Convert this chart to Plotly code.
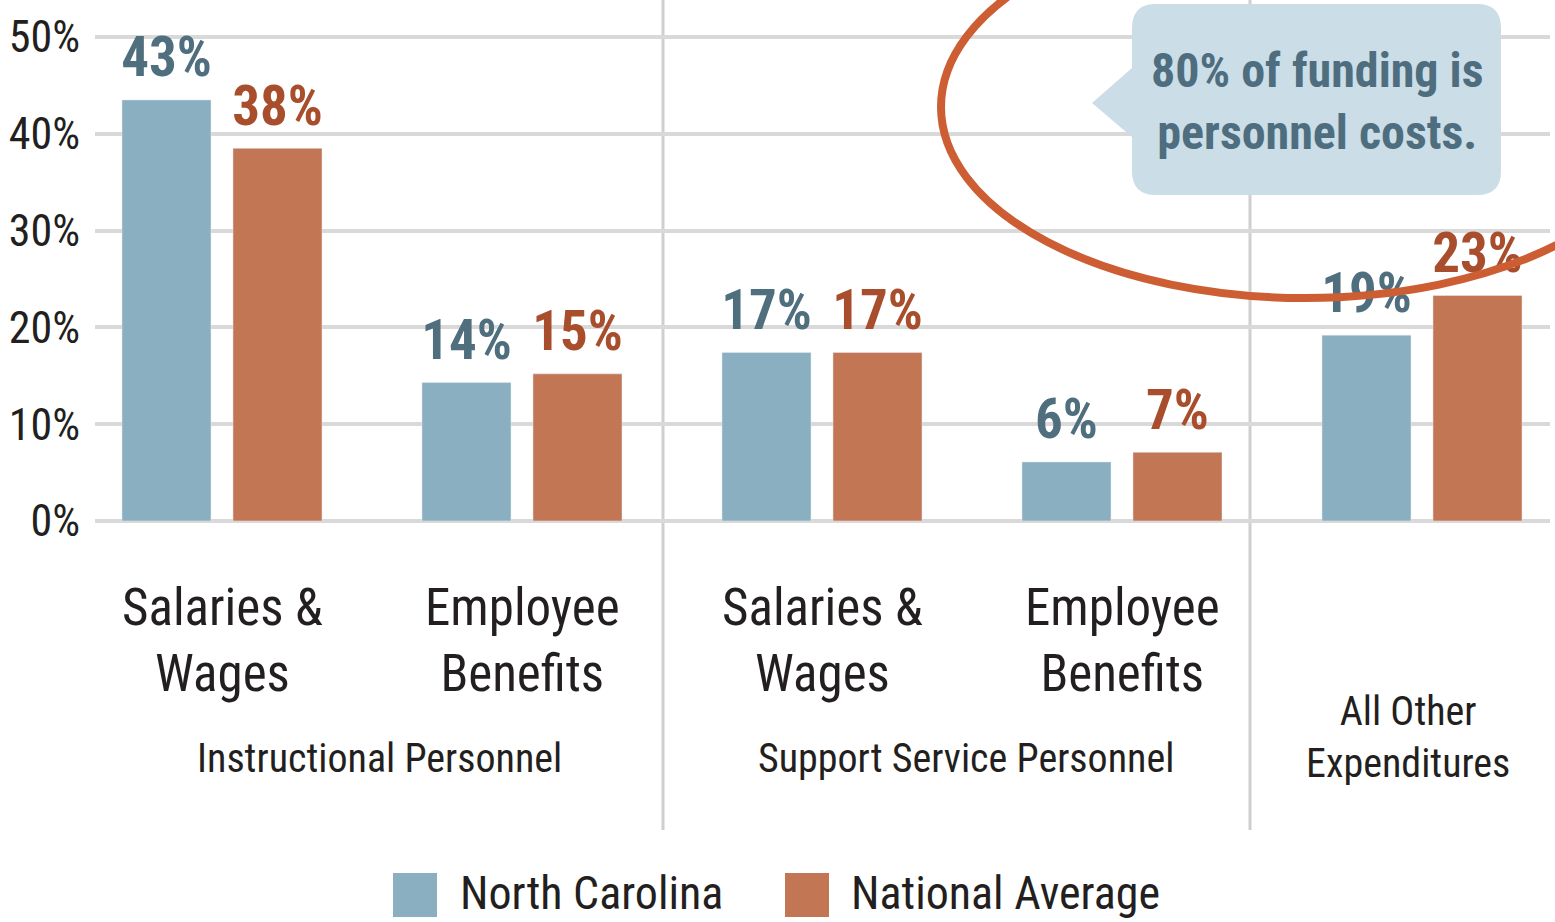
import plotly.graph_objects as go

# ---------------- data ----------------
groups = ["Salaries &<br>Wages", "Employee<br>Benefits", "Salaries &<br>Wages",
          "Employee<br>Benefits", ""]
sections = ["Instructional Personnel", "Support Service Personnel", "All Other<br>Expenditures"]
series_names = ["North Carolina", "National Average"]
nc_values = [43.5, 14.3, 17.4, 6.1, 19.2]
na_values = [38.5, 15.2, 17.4, 7.1, 23.3]
nc_labels = ["43%", "14%", "17%", "6%", "19%"]
na_labels = ["38%", "15%", "17%", "7%", "23%"]
y_ticks = [0, 10, 20, 30, 40, 50]
y_tick_labels = ["0%", "10%", "20%", "30%", "40%", "50%"]
callout_text = "80% of funding is<br>personnel costs."

# ---------------- style ----------------
FONT = "Roboto Condensed, DejaVu Sans Condensed, sans-serif"
NC_BAR = "#8aafc0"
NA_BAR = "#c27654"
NC_TXT = "#4f6e7e"
NA_TXT = "#a84e2c"
DARK = "#231f20"
GRID = "#d9d9d9"
GAP = 0.26

W, H = 1555, 922
L, R, T, B = 95, 1550, 0, 521


def fx(px):
    return (px - L) / (R - L)


def fy(py):
    return (B - py) / (B - T)


xpos = list(range(len(nc_values)))

fig = go.Figure()
for vals, name, col in ((nc_values, series_names[0], NC_BAR), (na_values, series_names[1], NA_BAR)):
    fig.add_trace(go.Bar(x=xpos, y=vals, name=name, marker_color=col, showlegend=False,
                         hoverinfo="skip"))
# value labels (grouped scatter text so they sit over their bars)
for vals, labels, col in ((nc_values, nc_labels, NC_TXT), (na_values, na_labels, NA_TXT)):
    fig.add_trace(go.Scatter(x=xpos, y=vals, mode="markers+text", text=labels,
                             textposition="top center",
                             marker=dict(size=14, opacity=0, color=col),
                             textfont=dict(family=FONT, size=55, color=col, weight="bold"),
                             cliponaxis=False, showlegend=False, hoverinfo="skip"))

shapes = []
# vertical separators
for sx in (663, 1250):
    shapes.append(dict(type="line", xref="paper", yref="paper", x0=fx(sx), x1=fx(sx),
                       y0=fy(0), y1=fy(830), line=dict(color="#cfcfcf", width=3),
                       layer="between"))

# callout bubble
x0, x1, y0, y1, r = 1132, 1501, 4, 195, 24
pts = [("M", x0 + r, y0), ("L", x1 - r, y0), ("Q", x1, y0, x1, y0 + r), ("L", x1, y1 - r),
       ("Q", x1, y1, x1 - r, y1), ("L", x0 + r, y1), ("Q", x0, y1, x0, y1 - r),
       ("L", x0, 137), ("L", 1092, 103), ("L", x0, 68), ("L", x0, y0 + r),
       ("Q", x0, y0, x0 + r, y0)]
path = ""
for p in pts:
    cmd = p[0]
    coords = p[1:]
    seg = []
    for i in range(0, len(coords), 2):
        seg.append(f"{fx(coords[i]):.5f},{fy(coords[i + 1]):.5f}")
    path += cmd + " " + " ".join(seg) + " "
path += "Z"
shapes.append(dict(type="path", xref="paper", yref="paper", path=path,
                   fillcolor="#cbdde6", line=dict(width=0), layer="above"))

# highlight ellipse
cx, cy, ax, ay = 1305, 107, 364, 191
shapes.append(dict(type="circle", xref="paper", yref="paper",
                   x0=fx(cx - ax), x1=fx(cx + ax), y0=fy(cy + ay), y1=fy(cy - ay),
                   line=dict(color="#cd5e34", width=8), layer="above"))

# legend squares
for sx, col in ((393, NC_BAR), (785, NA_BAR)):
    shapes.append(dict(type="rect", xref="paper", yref="paper", x0=fx(sx), x1=fx(sx + 44),
                       y0=fy(917), y1=fy(873), fillcolor=col, line=dict(width=0)))

annotations = []
# category labels
for i, g in enumerate(groups):
    if g:
        annotations.append(dict(x=xpos[i], y=fy(640), xref="x", yref="paper", text=g,
                                showarrow=False, xanchor="center", yanchor="middle",
                                font=dict(family=FONT, size=51, color=DARK)))
# section labels
sec_x = [0.5, 2.5, 4]
sec_y = [758, 758, 737]
sec_shift = [7, -6, -14]
for t, sxv, syv, sh in zip(sections, sec_x, sec_y, sec_shift):
    annotations.append(dict(x=sxv, y=fy(syv), xref="x", yref="paper", text=t, xshift=sh,
                            showarrow=False, xanchor="center", yanchor="middle",
                            font=dict(family=FONT, size=40, color=DARK)))
# callout text
annotations.append(dict(x=fx(1317), y=fy(101), xref="paper", yref="paper", text=callout_text,
                        showarrow=False, xanchor="center", yanchor="middle",
                        font=dict(family=FONT, size=48, color="#4e6e7f", weight="bold")))
# legend text
for sx, name in ((458, series_names[0]), (849, series_names[1])):
    annotations.append(dict(x=fx(sx), y=fy(893), xref="paper", yref="paper", text=name,
                            showarrow=False, xanchor="left", yanchor="middle",
                            font=dict(family=FONT, size=46, color=DARK)))

fig.update_layout(
    width=W, height=H,
    margin=dict(l=L, r=W - R, t=T, b=H - B, pad=0, autoexpand=False),
    paper_bgcolor="white", plot_bgcolor="white",
    barmode="group", bargap=GAP, bargroupgap=0.198,
    scattermode="group", scattergap=GAP,
    shapes=shapes, annotations=annotations,
    font=dict(family=FONT, color=DARK),
    xaxis=dict(range=[(L - 222) / 300, (R - 222) / 300], showgrid=False, zeroline=False,
               showticklabels=False, showline=False, fixedrange=True, automargin=False),
    yaxis=dict(range=[0, (B - T) / 9.68], tickvals=y_ticks, ticktext=y_tick_labels,
               showgrid=True, gridcolor=GRID, gridwidth=4, zeroline=True,
               zerolinecolor=GRID, zerolinewidth=4, showline=False,
               tickfont=dict(family=FONT, size=44, color=DARK), ticks="",
               ticklabelstandoff=14, fixedrange=True, automargin=False),
)

fig.write_html("out.html", config={"displayModeBar": False},
               post_script="document.body.style.margin='0';")
